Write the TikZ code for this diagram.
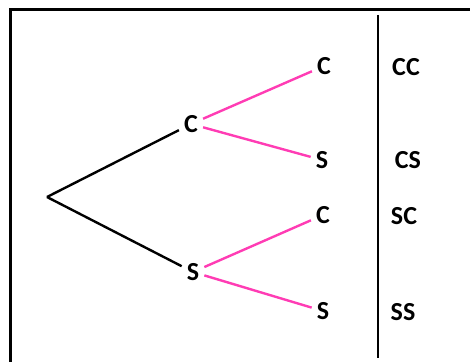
\documentclass[tikz,border=0pt]{standalone}
\usepackage{fontspec}
\setmainfont{Carlito}
\definecolor{treepink}{RGB}{255,60,180}
\begin{document}
\begin{tikzpicture}[x=1pt,y=1pt,
  lbl/.style={font=\fontsize{26}{31}\selectfont\bfseries, inner sep=5pt},
  blk/.style={draw=black, line width=2.4pt},
  pnk/.style={draw=treepink, line width=2.4pt},
  frame/.style={draw=black, line width=3pt}]
\useasboundingbox (0,0) rectangle (470,-361);
\draw[frame] (10,-362) -- (10,-10) -- (471,-10);
\draw[draw=black, line width=2.6pt] (378,-15) -- (378,-358);
\coordinate (root) at (47,-197);
\node[lbl] (c1) at (191,-124) {C};
\node[lbl] (s1) at (193,-272) {S};
\node[lbl] (cc) at (324,-66) {C};
\node[lbl] (cs) at (322,-160) {S};
\node[lbl] (sc) at (323,-215) {C};
\node[lbl] (ss) at (323,-311) {S};
\node[lbl] (tcc) at (406,-67) {CC};
\node[lbl] (tcs) at (408,-160) {CS};
\node[lbl] (tsc) at (404,-216) {SC};
\node[lbl] (tss) at (403,-312) {SS};
\draw[blk] (root) -- (c1);
\draw[blk] (root) -- (s1);
\draw[pnk] (c1) -- (cc);
\draw[pnk] (c1) -- (cs);
\draw[pnk] (s1) -- (sc);
\draw[pnk] (s1) -- (ss);
\end{tikzpicture}
\end{document}
